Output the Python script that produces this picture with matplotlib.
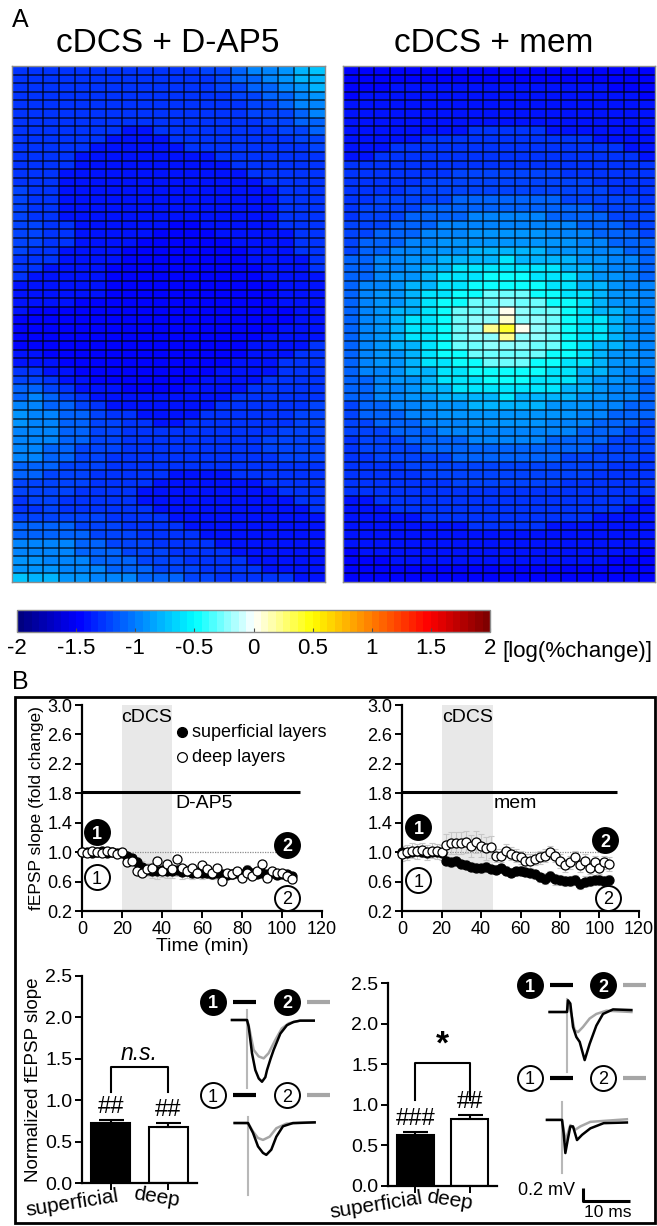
import numpy as np
import matplotlib
matplotlib.use("Agg")
import matplotlib.pyplot as plt
from matplotlib.colors import LinearSegmentedColormap
from matplotlib.patches import Rectangle

plt.rcParams['font.family'] = ['Liberation Sans', 'DejaVu Sans']
plt.rcParams['axes.unicode_minus'] = False

# ---- panel A: log(% change) maps, one character per cell ----
# level code: value = -1.6 + 0.1 * LEVELS.index(ch)
LEVELS = '0123456789abcdefghijklmnop'

map_dap5 = [
    "33333333333344566789",
    "33333333333334556788",
    "33333333333334455678",
    "33333333333333445567",
    "33333333333333344566",
    "33333333333333344456",
    "33333333333333334455",
    "33333332233333333445",
    "33333322223333333344",
    "33333222222333333334",
    "33332222222223333333",
    "33332222222222333333",
    "33322222222222233333",
    "33322222222222223333",
    "43322222222222222333",
    "43322222222222222333",
    "43322222222222222333",
    "43322222222222222333",
    "44332222221122222333",
    "44332222211112222233",
    "44332222111111222233",
    "43322221111111122233",
    "33322221111111122223",
    "33222211111111112223",
    "32222211111111112222",
    "22222211111111111222",
    "22222211111111111222",
    "22221111111111111222",
    "21111111111111111122",
    "11111111111111111122",
    "11111111111111111222",
    "11111111111111112222",
    "11111111111111122223",
    "22111111111111122233",
    "22211111111111222333",
    "33221111111112222333",
    "44322111111122223333",
    "55432221111222233333",
    "56543222222222333333",
    "66554322222223333334",
    "76655433222233333344",
    "76655443322333333344",
    "66655443333333333444",
    "66655443333333334444",
    "66554443333333334444",
    "66554433333333333444",
    "55544433333333333333",
    "55444333332222333333",
    "44444333322222223333",
    "44443333222222222333",
    "34433333222222222233",
    "33433333322222222223",
    "44444433332222222222",
    "55554443333222222222",
    "55555444333322222222",
    "66665544433332222222",
    "66665554443333222222",
    "77666555444333322222",
    "77766655544433332222",
    "98877666555443333322",
]

map_mem = [
    "11111111111111111111",
    "11111111111111111111",
    "11122222222222222111",
    "12222222222222222221",
    "22222222222222222222",
    "22222222222222222222",
    "22222222222222222222",
    "22222222333332222222",
    "22222333333333332222",
    "22233333333333333322",
    "22333333333333333332",
    "33333333333333333333",
    "33333334444444333333",
    "33333444444444443333",
    "33334444444444444333",
    "33444445555555444443",
    "34444555555555554444",
    "34445555666665555444",
    "44455566666666655544",
    "44555666777776665554",
    "45556677777777766555",
    "45566777888887776655",
    "5566778888a888877665",
    "5566788aaaaaaa887665",
    "556778aaabbbaaa87765",
    "566788aabbbbbaa88766",
    "56778aabbdddbbaa8776",
    "56778abbddeddbba8776",
    "56788abddegeddba8876",
    "5678aabdeeheedbaa876",
    "5678aabdeikgedbaa876",
    "5678aabdeeieedbaa876",
    "56788abddeeeddba8876",
    "56778abbdddddbba8776",
    "56778aabbdddbbaa8776",
    "566788aabbbbbaa88766",
    "556778aaabbbaaa87765",
    "5566788aaaaaaa887665",
    "5566778888a888877665",
    "45566777888887776655",
    "45556677777777766555",
    "44555666777776665554",
    "44455566666666655544",
    "34445555666665555444",
    "34444555555555554444",
    "33444445555555444443",
    "33334444444444444333",
    "33333444444444443333",
    "33333334444444333333",
    "33333333333333333333",
    "22333333333333333332",
    "22233333333333333322",
    "22222333333333332222",
    "22222222333332222222",
    "22222222222222222222",
    "22222222222222222222",
    "12222222222222222221",
    "11122222222222222111",
    "11111111111111111111",
    "11111111111111111111",
]

cbar_ticks = [-2, -1.5, -1, -0.5, 0, 0.5, 1, 1.5, 2]
cbar_labels = ['-2', '-1.5', '-1', '-0.5', '0', '0.5', '1', '1.5', '2']

# ---- panel B: fEPSP slope time courses (fold change), 2.5 min bins ----
time_min = np.arange(0, 106, 2.5)

dap5_sup = [1.00, 1.00, 0.99, 1.00, 1.01, 0.99, 1.00, 0.99, 0.99, 0.95, 0.92, 0.86,
            0.80, 0.76, 0.75, 0.74, 0.76, 0.75, 0.74, 0.76, 0.73, 0.74, 0.72, 0.73,
            0.71, 0.72, 0.70, 0.71, 0.70, 0.69, 0.70, 0.71, 0.70, 0.76, 0.72, 0.70,
            0.71, 0.70, 0.71, 0.69, 0.70, 0.70, 0.67]
dap5_sup_err = [0.02, 0.02, 0.02, 0.02, 0.02, 0.02, 0.02, 0.02, 0.02, 0.05, 0.06, 0.07,
                0.08, 0.09, 0.10, 0.10, 0.10, 0.10, 0.09, 0.09, 0.09, 0.09, 0.08, 0.08,
                0.07, 0.07, 0.07, 0.07, 0.06, 0.06, 0.06, 0.06, 0.06, 0.06, 0.05, 0.05,
                0.05, 0.05, 0.05, 0.05, 0.05, 0.05, 0.05]
dap5_deep = [1.00, 0.99, 1.01, 1.00, 0.99, 1.01, 1.00, 0.98, 1.00, 0.86, 0.88, 0.75,
             0.72, 0.77, 0.79, 0.88, 0.75, 0.84, 0.77, 0.91, 0.79, 0.75, 0.79, 0.72,
             0.82, 0.77, 0.72, 0.79, 0.61, 0.72, 0.70, 0.75, 0.65, 0.72, 0.68, 0.75,
             0.84, 0.65, 0.75, 0.72, 0.72, 0.68, 0.64]
dap5_deep_err = [0.02] * 9 + [0.04] * 34

mem_sup = [1.00, 0.99, 1.00, 1.01, 1.00, 0.99, 1.00, 1.00, 0.99, 0.88, 0.86, 0.88,
           0.84, 0.83, 0.80, 0.79, 0.78, 0.80, 0.77, 0.76, 0.78, 0.75, 0.72, 0.74,
           0.75, 0.73, 0.72, 0.70, 0.66, 0.64, 0.67, 0.63, 0.62, 0.61, 0.61, 0.62,
           0.57, 0.60, 0.61, 0.62, 0.62, 0.61, 0.62]
mem_sup_err = [0.03] * 9 + [0.06] * 20 + [0.07] * 14
mem_deep = [0.98, 1.00, 1.02, 1.01, 1.03, 1.00, 1.02, 1.01, 1.00, 1.10, 1.12, 1.13,
            1.12, 1.14, 1.08, 1.14, 1.09, 1.05, 1.07, 0.95, 0.95, 1.02, 0.98, 0.95,
            0.93, 0.88, 0.88, 0.91, 0.93, 0.95, 1.00, 0.95, 0.88, 0.82, 0.86, 0.93,
            0.82, 0.88, 0.79, 0.86, 0.79, 0.86, 0.84]
mem_deep_err = [0.10] * 9 + [0.15] * 10 + [0.09] * 24

# ---- panel B: normalized slope, mean +/- SEM ----
bar_groups = ['superficial', 'deep']
dap5_bar = [0.72, 0.68]
dap5_bar_err = [0.04, 0.04]
dap5_marks = ['##', '##']
mem_bar = [0.63, 0.83]
mem_bar_err = [0.03, 0.04]
mem_marks = ['###', '##']

# ---- example field potentials (ms, mV from baseline) ----
dap5_sup_t1 = [-3.2, 0.0, 0.35, 1.06, 1.77, 2.5, 3.19, 3.9, 4.26, 5.0, 5.67, 7.09, 8.5, 9.9, 11.3, 14.2]
dap5_sup_v1 = [0.0, 0.0, -0.10, -0.51, -0.77, -0.90, -0.95, -0.88, -0.77, -0.60, -0.46, -0.21, -0.08, -0.03, -0.01, -0.01]
dap5_sup_t2 = [-3.2, 0.0, 0.35, 1.42, 2.48, 3.55, 4.6, 6.0, 7.4, 8.9, 11.3, 14.2]
dap5_sup_v2 = [0.0, 0.0, -0.08, -0.46, -0.56, -0.59, -0.51, -0.31, -0.13, -0.05, -0.01, -0.01]
dap5_deep_t1 = [-2.84, 0.0, 1.06, 2.13, 3.19, 3.90, 4.96, 6.03, 7.45, 9.57, 14.18]
dap5_deep_v1 = [0.0, 0.0, -0.15, -0.36, -0.46, -0.49, -0.41, -0.21, -0.05, 0.0, 0.01]
dap5_deep_t2 = [-2.84, 0.0, 1.06, 2.13, 3.19, 4.61, 6.03, 8.16, 14.18]
dap5_deep_v2 = [0.0, 0.0, -0.13, -0.23, -0.26, -0.21, -0.08, -0.01, 0.01]

mem_sup_t1 = [-3.7, 0.0, 0.21, 0.71, 1.28, 1.99, 2.70, 3.76, 4.82, 6.24, 7.66, 9.79, 13.7]
mem_sup_v1 = [0.0, 0.0, 0.18, 0.13, -0.23, -0.385, -0.46, -0.74, -0.49, -0.21, -0.03, 0.04, 0.03]
mem_sup_t2 = [-3.7, 0.0, 0.21, 0.92, 1.63, 2.34, 3.40, 4.82, 6.24, 8.4, 13.7]
mem_sup_v2 = [0.0, 0.0, 0.15, -0.03, -0.28, -0.31, -0.23, -0.10, -0.03, 0.02, 0.0]
mem_deep_t1 = [-3.2, 0.0, 0.35, 0.71, 1.21, 1.77, 2.34, 3.19, 4.26, 6.03, 8.87, 13.8]
mem_deep_v1 = [0.0, 0.0, -0.21, -0.51, -0.31, -0.10, -0.10, -0.31, -0.23, -0.13, -0.05, -0.04]
mem_deep_t2 = [-3.2, 0.0, 0.35, 0.71, 1.21, 1.77, 2.84, 3.90, 6.03, 13.8]
mem_deep_v2 = [0.0, 0.0, -0.15, -0.33, -0.21, -0.08, -0.15, -0.10, -0.03, 0.01]


W, H = 657, 1226
fig = plt.figure(figsize=(W / 100, H / 100), dpi=100)


def px_axes(l, t, r, b):
    return fig.add_axes([l / W, 1 - b / H, (r - l) / W, (b - t) / H])


def decode(rows):
    return np.array([[-1.6 + 0.1 * LEVELS.index(c) for c in r] for r in rows])


jet_white = LinearSegmentedColormap.from_list(
    'jet_white',
    [(0.0, (0, 0, 0.5)), (0.125, (0, 0, 1)), (0.375, (0, 1, 1)), (0.5, (1, 1, 1)),
     (0.625, (1, 1, 0)), (0.875, (1, 0, 0)), (1.0, (0.5, 0, 0))], N=64)

fig.text(12 / W, 1 - 20 / H, 'A', fontsize=18, ha='left', va='center')
fig.text(12 / W, 1 - 682 / H, 'B', fontsize=18, ha='left', va='center')

mesh = None
for rows, box, title, tx in [(map_dap5, (12, 66, 325, 582), 'cDCS + D-AP5', 168),
                             (map_mem, (343, 66, 655, 582), 'cDCS + mem', 494)]:
    ax = px_axes(*box)
    vals = decode(rows)
    nr, nc = vals.shape
    mesh = ax.pcolormesh(vals, cmap=jet_white, vmin=-2, vmax=2, antialiased=False)
    # cell borders
    ax.hlines(np.arange(1, nr), 0, nc, colors='k', lw=1.1, alpha=0.75)
    ax.vlines(np.arange(1, nc), 0, nr, colors='k', lw=1.1, alpha=0.75)
    ax.set_xlim(0, nc)
    ax.set_ylim(nr, 0)
    ax.set_xticks([])
    ax.set_yticks([])
    for s in ax.spines.values():
        s.set_color('0.55')
        s.set_linewidth(1.0)
    fig.text(tx / W, 1 - 44 / H, title, fontsize=24, ha='center', va='center')

cax = px_axes(17, 610, 490, 632)
cb = fig.colorbar(mesh, cax=cax, orientation='horizontal')
cb.set_ticks(cbar_ticks)
cb.set_ticklabels(cbar_labels)
cax.tick_params(direction='in', length=3, width=0.8, color='0.3', labelsize=16, pad=4)
cb.outline.set_edgecolor('0.55')
cb.outline.set_linewidth(1.0)
fig.text(502 / W, 1 - 651 / H, '[log(%change)]', fontsize=16, ha='left', va='center')

# frame around panel B
fig.add_artist(Rectangle((15 / W, 1 - 1223 / H), 640 / W, 526 / H, transform=fig.transFigure,
                         fill=False, lw=2, ec='k'))


def style_axes(ax, size=13):
    for side in ['top', 'right']:
        ax.spines[side].set_visible(False)
    for side in ['left', 'bottom']:
        ax.spines[side].set_linewidth(1.6)
    ax.tick_params(direction='out', length=5, width=1.4, labelsize=size, pad=2)


def badge(ax, x, y, s, filled):
    ax.plot(x, y, 'o', ms=18, mfc='k' if filled else 'w', mec='k', mew=1.4,
            clip_on=False, zorder=8)
    ax.text(x, y, s, color='w' if filled else 'k', ha='center', va='center_baseline',
            fontsize=13, fontweight='bold' if filled else 'normal', zorder=9)


# time courses
tc_specs = [
    ((82, 705, 322, 911), dap5_sup, dap5_sup_err, dap5_deep, dap5_deep_err,
     'D-AP5', (20, 45), [(7.5, 1.27, '1', True), (7.5, 0.66, '1', False),
                         (102.5, 1.10, '2', True), (102.5, 0.38, '2', False)]),
    ((402, 705, 639, 911), mem_sup, mem_sup_err, mem_deep, mem_deep_err,
     'mem', (20, 46), [(8.3, 1.34, '1', True), (8.3, 0.62, '1', False),
                       (102.8, 1.16, '2', True), (104.3, 0.38, '2', False)]),
]
for i, (box, sup, sup_e, deep, deep_e, drug, span, badges) in enumerate(tc_specs):
    ax = px_axes(*box)
    style_axes(ax)
    ax.set_xlim(0, 120)
    ax.set_ylim(0.2, 3.0)
    ax.set_xticks([0, 20, 40, 60, 80, 100, 120])
    ax.set_yticks([0.2, 0.6, 1.0, 1.4, 1.8, 2.2, 2.6, 3.0])
    ax.set_yticklabels(['0.2', '0.6', '1.0', '1.4', '1.8', '2.2', '2.6', '3.0'])
    ax.axvspan(*span, color='0.91', lw=0, zorder=0)
    ax.text(np.mean(span), 2.83, 'cDCS', fontsize=14, ha='center', va='center')
    ax.hlines(1.0, 20, 105, colors='0.55', linestyles=(0, (1, 1)), lw=0.9, zorder=1)
    ax.hlines(1.82, 0, 109, colors='k', lw=2.2, zorder=2)
    ax.text(46.5, 1.66, drug, fontsize=14, ha='left', va='center')
    ax.errorbar(time_min, sup, yerr=sup_e, fmt='none', ecolor='0.78', elinewidth=0.8,
                capsize=2.5, capthick=0.8, zorder=2)
    ax.errorbar(time_min, deep, yerr=deep_e, fmt='none', ecolor='0.78', elinewidth=0.8,
                capsize=2.5, capthick=0.8, zorder=2)
    ax.plot(time_min, sup, 'o', ms=6.5, mfc='k', mec='k', mew=0.9, ls='none',
            clip_on=False, zorder=4)
    ax.plot(time_min, deep, 'o', ms=6.5, mfc='w', mec='k', mew=0.9, ls='none',
            clip_on=False, zorder=5)
    for bx, by, s, f in badges:
        badge(ax, bx, by, s, f)
    if i == 0:
        ax.set_ylabel('fEPSP slope (fold change)', fontsize=12.5, labelpad=2)
        ax.set_xlabel('Time (min)', fontsize=14, labelpad=0)
        ax.plot([50], [2.63], 'o', ms=7, mfc='k', mec='k', clip_on=False)
        ax.plot([50], [2.29], 'o', ms=7, mfc='w', mec='k', mew=0.9, clip_on=False)
        ax.text(55, 2.63, 'superficial layers', fontsize=13, ha='left', va='center')
        ax.text(55, 2.29, 'deep layers', fontsize=13, ha='left', va='center')

# bar charts; group labels sit below the axis, slightly tilted
bar_specs = [
    ((82, 976, 197, 1183), dap5_bar, dap5_bar_err, dap5_marks, 1.10, 1.40, 'n.s.',
     [(-0.67, -0.24, 9), (0.79, -0.17, -9)]),
    ((388, 983, 497, 1186), mem_bar, mem_bar_err, mem_marks, 1.06, 1.52, '*',
     [(-0.72, -0.24, 9), (0.62, -0.17, -9)]),
]
for i, (box, vals, errs, marks, y0, y1, sig, lab_pos) in enumerate(bar_specs):
    ax = px_axes(*box)
    style_axes(ax, size=14)
    ax.set_xlim(-0.5, 1.5)
    ax.set_ylim(0, 2.5)
    ax.set_yticks([0, 0.5, 1.0, 1.5, 2.0, 2.5])
    ax.set_yticklabels(['0.0', '0.5', '1.0', '1.5', '2.0', '2.5'])
    ax.set_xticks([0, 1])
    ax.set_xticklabels(['', ''])
    ax.bar([0, 1], vals, width=0.68, color=['k', 'w'], edgecolor='k', linewidth=1.5, zorder=2)
    ax.errorbar([0, 1], vals, yerr=[[0, 0], errs], fmt='none', ecolor='k', elinewidth=1.5,
                capsize=9, capthick=1.5, zorder=3)
    for x, v, e, m in zip([0, 1], vals, errs, marks):
        ax.text(x, v + e + 0.03, m, fontsize=17, ha='center', va='bottom')
    ax.plot([0, 0, 1, 1], [y0, y1, y1, y0], color='k', lw=1.5, clip_on=False)
    if sig == '*':
        ax.text(0.5, y1 + 0.02, sig, fontsize=24, fontweight='bold', ha='center', va='bottom')
    else:
        ax.text(0.5, y1 + 0.03, sig, fontsize=16.5, style='italic', ha='center', va='bottom')
    for (lx, ly, rot), name in zip(lab_pos, bar_groups):
        ax.text(lx, ly, name, fontsize=15, rotation=rot, rotation_mode='anchor',
                ha='center', va='center', clip_on=False)
    if i == 0:
        ax.set_ylabel('Normalized fEPSP slope', fontsize=13.5, labelpad=2)

# field potential traces: x in ms from stimulus, y in mV from baseline
trace_specs = [
    ((195, 985, 340, 1205), 247, 1020, (0.0, 0.0), (0.21, -1.585), 0.277, -1.154,
     (-7.23, 8.51), (dap5_sup_t1, dap5_sup_v1, dap5_sup_t2, dap5_sup_v2),
     (dap5_deep_t1, dap5_deep_v1, dap5_deep_t2, dap5_deep_v2),
     ((0.15, -1.05), (0.10, -1.10)), False),
    ((515, 975, 655, 1222), 567, 1012, (0.0, 0.0), (-1.06, -1.66), 0.415, -1.015,
     (-7.87, 7.66), (mem_sup_t1, mem_sup_v1, mem_sup_t2, mem_sup_v2),
     (mem_deep_t1, mem_deep_v1, mem_deep_t2, mem_deep_v2),
     ((0.20, -0.92), (0.28, -0.82)), True),
]
PX_PER_MS, PX_PER_MV = 4.7, 65.0
for box, x0, y0, off_up, off_lo, row_up, row_lo, bxs, up, lo, stims, scale in trace_specs:
    ax = px_axes(*box)
    ax.set_xlim((box[0] - x0) / PX_PER_MS, (box[2] - x0) / PX_PER_MS)
    ax.set_ylim((y0 - box[3]) / PX_PER_MV, (y0 - box[1]) / PX_PER_MV)
    ax.axis('off')
    for (dx, dy), (t1, v1, t2, v2), (s_hi, s_lo) in [(off_up, up, stims[0]), (off_lo, lo, stims[1])]:
        ax.plot([dx, dx], [dy + s_hi, dy + s_lo], color='0.72', lw=1.5, zorder=1)
        ax.plot(np.array(t2) + dx, np.array(v2) + dy, color='0.65', lw=1.8, zorder=2)
        ax.plot(np.array(t1) + dx, np.array(v1) + dy, color='k', lw=1.8, zorder=3)
    for yrow, filled in [(row_up, True), (row_lo, False)]:
        badge(ax, bxs[0], yrow, '1', filled)
        badge(ax, bxs[1], yrow, '2', filled)
        ax.plot([bxs[0] + 4.25, bxs[0] + 9.15], [yrow, yrow], color='k', lw=3, solid_capstyle='butt')
        ax.plot([bxs[1] + 4.25, bxs[1] + 9.15], [yrow, yrow], color='0.65', lw=3, solid_capstyle='butt')
    if scale:
        ax.plot([3.4, 3.4, 13.4], [-2.71, -2.91, -2.91], color='k', lw=2.2,
                solid_capstyle='butt', clip_on=False)
        ax.text(1.7, -2.75, '0.2 mV', fontsize=13, ha='right', va='center')
        ax.text(8.7, -2.97, '10 ms', fontsize=12.5, ha='center', va='top')

fig.savefig('out.png', dpi=100)
